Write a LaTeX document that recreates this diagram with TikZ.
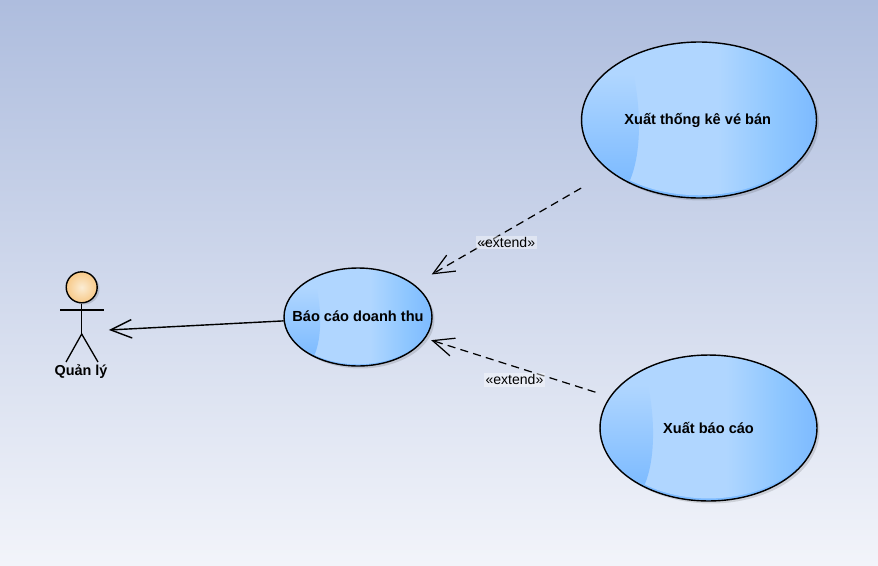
\documentclass[tikz,border=0pt]{standalone}
\usepackage{fontspec}
\setmainfont{Liberation Sans}
\usepackage{xcolor}
\usepackage{tikz}
\usetikzlibrary{arrows.meta,shapes.geometric}

\definecolor{sky}{RGB}{174,189,222}
\definecolor{mist}{RGB}{242,244,250}
\definecolor{caselight}{RGB}{176,214,255}
\definecolor{casedeep}{RGB}{125,187,255}
\definecolor{skin}{RGB}{246,214,160}
\pgfdeclarehorizontalshading{caseglow}{100bp}{rgb(0bp)=(0.69,0.84,1);rgb(25bp)=(0.69,0.84,1);rgb(54bp)=(0.69,0.84,1);rgb(66bp)=(0.56,0.78,1);rgb(75bp)=(0.49,0.73,1);rgb(100bp)=(0.49,0.73,1)}

\tikzset{
  usecase/.style 2 args={ellipse,draw=black,line width=0.8pt,inner sep=0pt,
    minimum width=2*#1,minimum height=2*#2,font=\bfseries\fontsize{8.3}{10}\selectfont},
  head/.style={circle,draw=black,line width=0.8pt,inner sep=0pt,minimum size=0.62cm,
    inner color=skin!45!white,outer color=skin!85!orange},
  limb/.style={line width=0.75pt},
  lbl/.style={font=\bfseries\fontsize{8.2}{10}\selectfont},
  ext/.style={fill=white,fill opacity=0.4,text opacity=1,inner sep=1pt,
    font=\fontsize{8}{10}\selectfont},
  assoc/.style={line width=0.8pt,-{Straight Barb[length=12pt,width=10.5pt]}},
  extendarrow/.style={line width=0.7pt,dash pattern=on 4.6pt off 3pt,
    -{Straight Barb[length=12pt,width=10.5pt]}}
}

\newcommand{\casebody}[3]{
  \fill [black,opacity=0.12] ([xshift=0.05cm,yshift=-0.05cm]#1) ellipse [x radius=#2,y radius=#3];
  \begin{scope}[shift={(#1)},x=#2,y=#3]
    \clip (0,0) ellipse [x radius=1,y radius=1];
    \fill [casedeep] (-1,-1) rectangle (1,1);
    \shade [shading=caseglow] (0,0.035) ellipse [x radius=1,y radius=1];
    \shade [top color=caselight,bottom color=casedeep]
      (-0.56,0.6) .. controls (-0.5,0.2) and (-0.48,-0.4) .. (-0.59,-0.78)
      -- (-1.1,-0.78) -- (-1.1,0.6) -- cycle;
  \end{scope}
}

\begin{document}
\begin{tikzpicture}[x=0.02cm,y=-0.02cm]
    \useasboundingbox (0,0) rectangle (878,565);
    \shade [top color=sky,bottom color=mist] (0,0) rectangle (878,565);

    \casebody{699,120}{2.35cm}{1.56cm}
    \casebody{358,317}{1.48cm}{0.98cm}
    \casebody{708.5,428}{2.17cm}{1.46cm}
    \fill [black,opacity=0.12] (84,289) circle [radius=0.31cm];

    \node [usecase={2.35cm}{1.56cm}] (thongke) at (699,120) {\makebox[0pt]{\raisebox{0.02cm}{Xuất thống kê vé bán\hspace{0.05cm}}}};
    \node [usecase={1.48cm}{0.98cm}] (doanhthu) at (358,317) {\makebox[0pt]{\raisebox{0.04cm}{Báo cáo doanh thu}}};
    \node [usecase={2.17cm}{1.46cm}] (baocao) at (708.5,428) {\makebox[0pt]{Xuất báo cáo}};

    \node [head] (actorhead) at (81.7,287.3) {};
    \coordinate (actorhip) at (81.7,334);
    \coordinate (actorarml) at (60,310);
    \coordinate (actorarmr) at (104,310);
    \coordinate (actorlegl) at (66,362);
    \coordinate (actorlegr) at (98,362);
    \coordinate (actor) at (82,331.4);
    \node [lbl] (quanly) at (81,372) {Quản lý};

    \draw [limb] (actorhead) -- (actorhip);
    \draw [limb] (actorarml) -- (actorarmr);
    \draw [limb] (actorlegl) -- (actorhip) -- (actorlegr);

    \draw [assoc,shorten >=0.54cm] (doanhthu) -- (actor);
    \draw [extendarrow,shorten <=0.66cm,shorten >=0.4cm] (thongke) -- (doanhthu)
      node [ext,pos=0.566,xshift=0.14cm,yshift=-0.14cm] (extendtop) {«extend»};
    \draw [extendarrow,shorten <=0.3cm,shorten >=0.12cm] (baocao) -- (doanhthu)
      node [ext,pos=0.555,xshift=0.14cm,yshift=-0.31cm] (extendbottom) {«extend»};
\end{tikzpicture}
\end{document}
